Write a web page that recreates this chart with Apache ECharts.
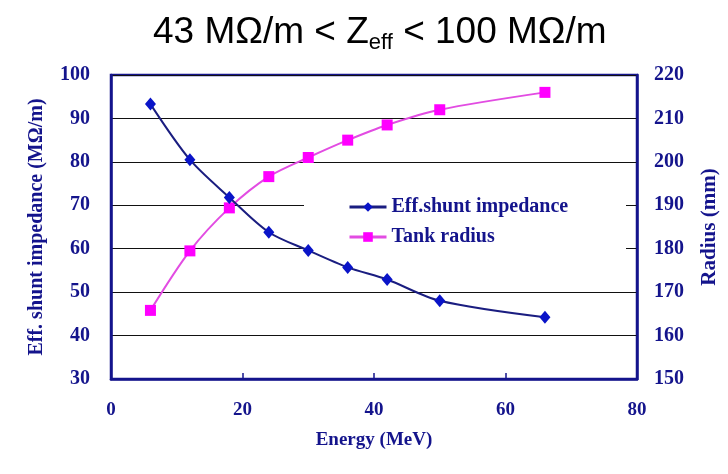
<!DOCTYPE html>
<html>
<head>
<meta charset="utf-8">
<script src="https://cdn.jsdelivr.net/npm/echarts@6/dist/echarts.min.js"></script>
<style>
  html, body { margin: 0; padding: 0; background: #fff; }
  #chart { width: 728px; height: 474px; }
</style>
</head>
<body>
<div id="chart"></div>
<script>
  // 数据：能量 (MeV)、有效分路阻抗 (MΩ/m)、腔体半径 (mm)
  const energy = [6, 12, 18, 24, 30, 36, 42, 50, 66];
  const impedance = [93.3, 80.5, 71.8, 63.8, 59.6, 55.7, 52.9, 48.0, 44.2];
  const radius = [165.8, 179.5, 189.4, 196.6, 201.0, 205.0, 208.5, 212.0, 216.0];
  const xTicks = [0, 20, 40, 60, 80];
  const seriesNames = ['Eff.shunt impedance', 'Tank radius'];

  const navy = '#14148c';
  const serif = 'Liberation Serif';

  let chartDom = document.getElementById('chart');
  let myChart = echarts.init(chartDom);
  let option;

  option = {
    animation: false,
    backgroundColor: '#fff',
    title: {
      text: '{a|43 MΩ/m < Z}{s|eff}{a| < 100 MΩ/m}',
      left: 148,
      top: 8,
      textStyle: {
        fontWeight: 'normal',
        rich: {
          a: { fontFamily: 'Liberation Sans', fontWeight: 'normal', fontSize: 37, color: '#000', lineHeight: 40 },
          s: { fontFamily: 'Liberation Sans', fontWeight: 'normal', fontSize: 22, color: '#000', lineHeight: 40, padding: [19, 0, 0, 0] }
        }
      }
    },
    grid: {
      left: 111, right: 91, top: 75, bottom: 95,
      show: true, borderColor: navy, borderWidth: 2.5
    },
    legend: {
      orient: 'vertical',
      left: 348,
      top: 197,
      padding: 0,
      itemGap: 10,
      itemWidth: 37,
      itemHeight: 12,
      lineStyle: { width: 3 },
      data: seriesNames,
      textStyle: { fontFamily: serif, fontWeight: 'bold', fontSize: 20, color: navy, lineHeight: 20 }
    },
    // 图例的白色背景框，盖住部分网格线
    graphic: [{
      type: 'rect', left: 304, top: 190, z: 1,
      shape: { width: 322, height: 66 },
      style: { fill: '#fff' }
    }],
    xAxis: {
      type: 'value', min: 0, max: 80, interval: 20,
      name: 'Energy (MeV)', nameLocation: 'middle', nameGap: 52,
      nameTextStyle: { fontFamily: serif, fontWeight: 'bold', fontSize: 19, color: navy },
      axisLine: { lineStyle: { color: navy, width: 2.5 } },
      axisTick: { inside: true, length: 6, lineStyle: { color: navy, width: 1.5 } },
      axisLabel: {
        margin: 22, fontFamily: serif, fontWeight: 'bold', fontSize: 19, color: navy,
        formatter: v => xTicks.includes(v) ? String(v) : ''
      },
      splitLine: { show: false }
    },
    yAxis: [
      {
        type: 'value', min: 30, max: 100, interval: 10,
        name: 'Eff. shunt impedance (MΩ/m)', nameLocation: 'middle', nameGap: 64, nameRotate: 90,
        nameTextStyle: { fontFamily: serif, fontWeight: 'bold', fontSize: 20, color: navy },
        axisLine: { show: true, lineStyle: { color: navy, width: 2.5 } },
        axisTick: { show: false },
        axisLabel: { margin: 21, fontFamily: serif, fontWeight: 'bold', fontSize: 20, color: navy },
        splitLine: { show: true, lineStyle: { color: '#111', width: 1.2 } }
      },
      {
        type: 'value', min: 150, max: 220, interval: 10, position: 'right',
        name: 'Radius (mm)', nameLocation: 'middle', nameGap: 62, nameRotate: 90,
        nameTextStyle: { fontFamily: serif, fontWeight: 'bold', fontSize: 21, color: navy },
        axisLine: { show: true, lineStyle: { color: navy, width: 2.5 } },
        axisTick: { show: false },
        axisLabel: { margin: 17, fontFamily: serif, fontWeight: 'bold', fontSize: 20, color: navy },
        splitLine: { show: false }
      }
    ],
    series: [
      {
        name: seriesNames[0],
        type: 'line',
        yAxisIndex: 0,
        smooth: 0.3,
        symbol: 'diamond',
        symbolSize: [11, 13],
        z: 3,
        lineStyle: { color: '#1a1d80', width: 2 },
        itemStyle: { color: '#0a14c8' },
        data: energy.map((e, i) => [e, impedance[i]])
      },
      {
        name: seriesNames[1],
        type: 'line',
        yAxisIndex: 1,
        smooth: 0.3,
        symbol: 'rect',
        symbolSize: 11,
        z: 2,
        lineStyle: { color: '#e24ce2', width: 2 },
        itemStyle: { color: '#ff00ff' },
        data: energy.map((e, i) => [e, radius[i]])
      }
    ]
  };

  option && myChart.setOption(option);
</script>
</body>
</html>
